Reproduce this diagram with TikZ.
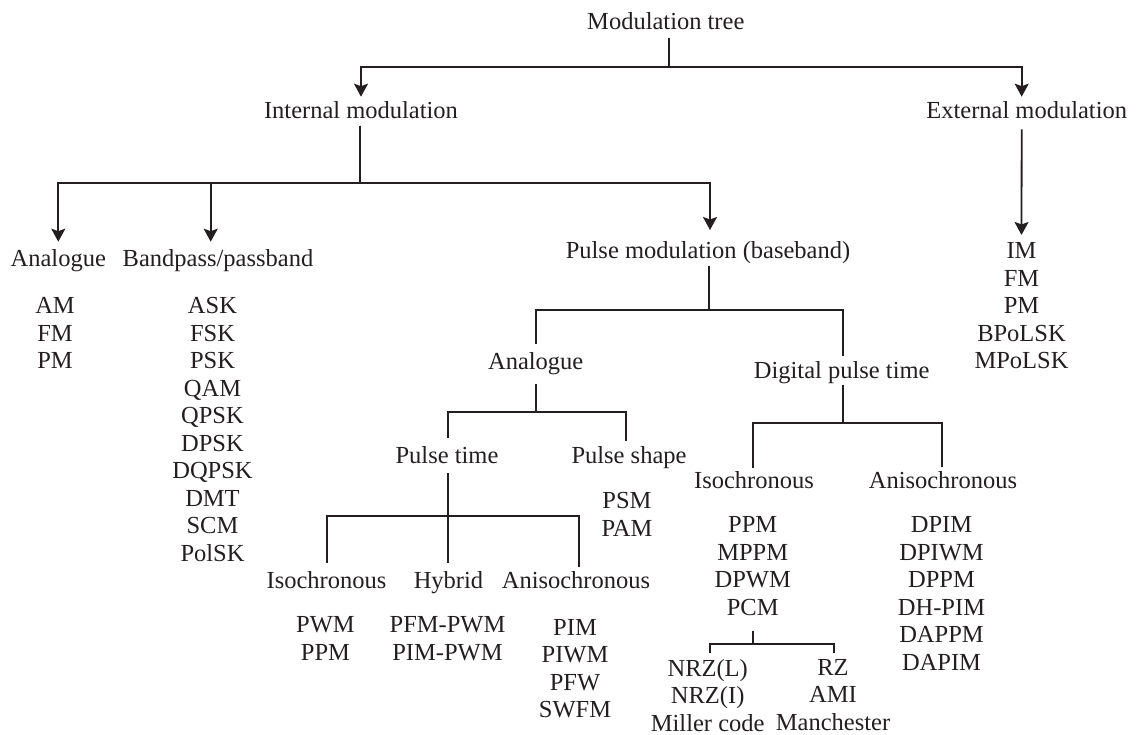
\documentclass[tikz,border=0pt]{standalone}
\usepackage{fontspec}
\setmainfont{Liberation Serif}
\usetikzlibrary{arrows.meta}
\definecolor{ink}{HTML}{231F20}
\begin{document}
\begin{tikzpicture}[x=1pt,y=-1pt,
  lbl/.style={font=\fontsize{24.5}{27.5}\selectfont, inner sep=0pt, anchor=base, text=ink},
  lst/.style={font=\fontsize{24.5}{27.5}\selectfont, inner sep=0pt, anchor=north, align=center, text=ink, execute at begin node=\strut},
  ln/.style={draw=ink, line width=1.8pt},
  arr/.style={ln, -{Stealth[length=13pt,width=14pt,inset=2.5pt]}}]
\useasboundingbox (0,0) rectangle (1136,735);

% labels
\node[lbl] (mt) at (665.8,30) {Modulation tree};
\node[lbl] (im) at (361,118.3) {Internal modulation};
\node[lbl] (em) at (1026.7,118.3) {External modulation};
\node[lbl] (an1) at (58.3,266.7) {Analogue};
\node[lbl] (bp) at (218,266.7) {Bandpass/passband};
\node[lbl] (pm) at (708,259) {Pulse modulation (baseband)};
\node[lbl] (an2) at (535.7,370) {Analogue};
\node[lbl] (dpt) at (841.7,378.3) {Digital pulse time};
\node[lbl] (pt) at (447,463) {Pulse time};
\node[lbl] (ps) at (629,463.3) {Pulse shape};
\node[lbl] (iso2) at (754,488) {Isochronous};
\node[lbl] (aniso2) at (943,488) {Anisochronous};
\node[lbl] (iso1) at (326.5,588.3) {Isochronous};
\node[lbl] (hyb) at (448.5,588.3) {Hybrid};
\node[lbl] (aniso1) at (576,588.3) {Anisochronous};

% lists
\node[lst] (anl) at (55,297.45) {AM\\FM\\PM};
\node[lst] (bpl) at (212.5,297.45) {ASK\\FSK\\PSK\\QAM\\QPSK\\DPSK\\DQPSK\\DMT\\SCM\\PolSK};
\node[lst] (exl) at (1021.5,242.45) {IM\\FM\\PM\\BPoLSK\\MPoLSK};
\node[lst] (psl) at (627,492.45) {PSM\\PAM};
\node[lst] (iso1l) at (325.5,616.45) {PWM\\PPM};
\node[lst] (hybl) at (447.5,616.45) {PFM-PWM\\PIM-PWM};
\node[lst] (aniso1l) at (575,619.05) {PIM\\PIWM\\PFW\\SWFM};
\node[lst] (iso2l) at (752.7,516.45) {PPM\\MPPM\\DPWM\\PCM};
\node[lst] (aniso2l) at (941.5,516.45) {DPIM\\DPIWM\\DPPM\\DH-PIM\\DAPPM\\DAPIM};
\node[lst] (nrzl) at (707.7,659.05) {NRZ(L)\\NRZ(I)\\Miller code};
\node[lst] (rzl) at (833,659.05) {RZ\\AMI\\Manchester};

% connectors
\draw[arr] ([xshift=3.5pt,yshift=-8.3pt]mt.base) -- ++(0,28.4) -| ([yshift=21.6pt]im.base);
\draw[arr] ([xshift=3.5pt,yshift=-8.3pt]mt.base) -- ++(0,28.4) -| ([xshift=-5pt,yshift=21.6pt]em.base);

\draw[arr] ([xshift=-1pt,yshift=-7.4pt]im.base) -- ++(0,57.6) -| ([yshift=25pt]an1.base);
\draw[arr] ([xshift=-1pt,yshift=-7.4pt]im.base) -- ++(0,57.6) -| ([xshift=-7.3pt,yshift=25pt]bp.base);
\draw[arr] ([xshift=-1pt,yshift=-7.4pt]im.base) -- ++(0,57.6) -| ([xshift=2pt,yshift=29pt]pm.base);

\draw[arr] ([xshift=-5pt,yshift=-11pt]em.base) -- ([yshift=7.5pt]exl.north);

\draw[ln] ([xshift=1pt,yshift=-7pt]pm.base) -- ++(0,44) -| ([yshift=25.7pt]an2.base);
\draw[ln] ([xshift=1pt,yshift=-7pt]pm.base) -- ++(0,44) -| ([xshift=1pt,yshift=22.3pt]dpt.base);

\draw[ln] ([yshift=-14pt]an2.base) -- ++(0,27.7) -| ([xshift=1pt,yshift=25pt]pt.base);
\draw[ln] ([yshift=-14pt]an2.base) -- ++(0,27.7) -| ([xshift=-3.3pt,yshift=22.3pt]ps.base);

\draw[ln] ([xshift=1pt,yshift=-6.7pt]dpt.base) -- ++(0,37.7) -| ([xshift=-0.7pt,yshift=19.7pt]iso2.base);
\draw[ln] ([xshift=1pt,yshift=-6.7pt]dpt.base) -- ++(0,37.7) -| ([xshift=-1.3pt,yshift=21pt]aniso2.base);

\draw[ln] ([xshift=1.3pt,yshift=-10pt]pt.base) -- ++(0,42.7) -| ([xshift=0.2pt,yshift=25pt]iso1.base);
\draw[ln] ([xshift=1.3pt,yshift=-10pt]pt.base) -- ([xshift=-0.2pt,yshift=25.6pt]hyb.base);
\draw[ln] ([xshift=1.3pt,yshift=-10pt]pt.base) -- ++(0,42.7) -| ([xshift=3pt,yshift=21pt]aniso1.base);

\draw[ln] ([yshift=-7.7pt]iso2l.south) -- ++(0,13) -| ([xshift=2.3pt,yshift=6.35pt]nrzl.north);
\draw[ln] ([yshift=-7.7pt]iso2l.south) -- ++(0,13) -| ([xshift=1pt,yshift=6.35pt]rzl.north);
\end{tikzpicture}
\end{document}
